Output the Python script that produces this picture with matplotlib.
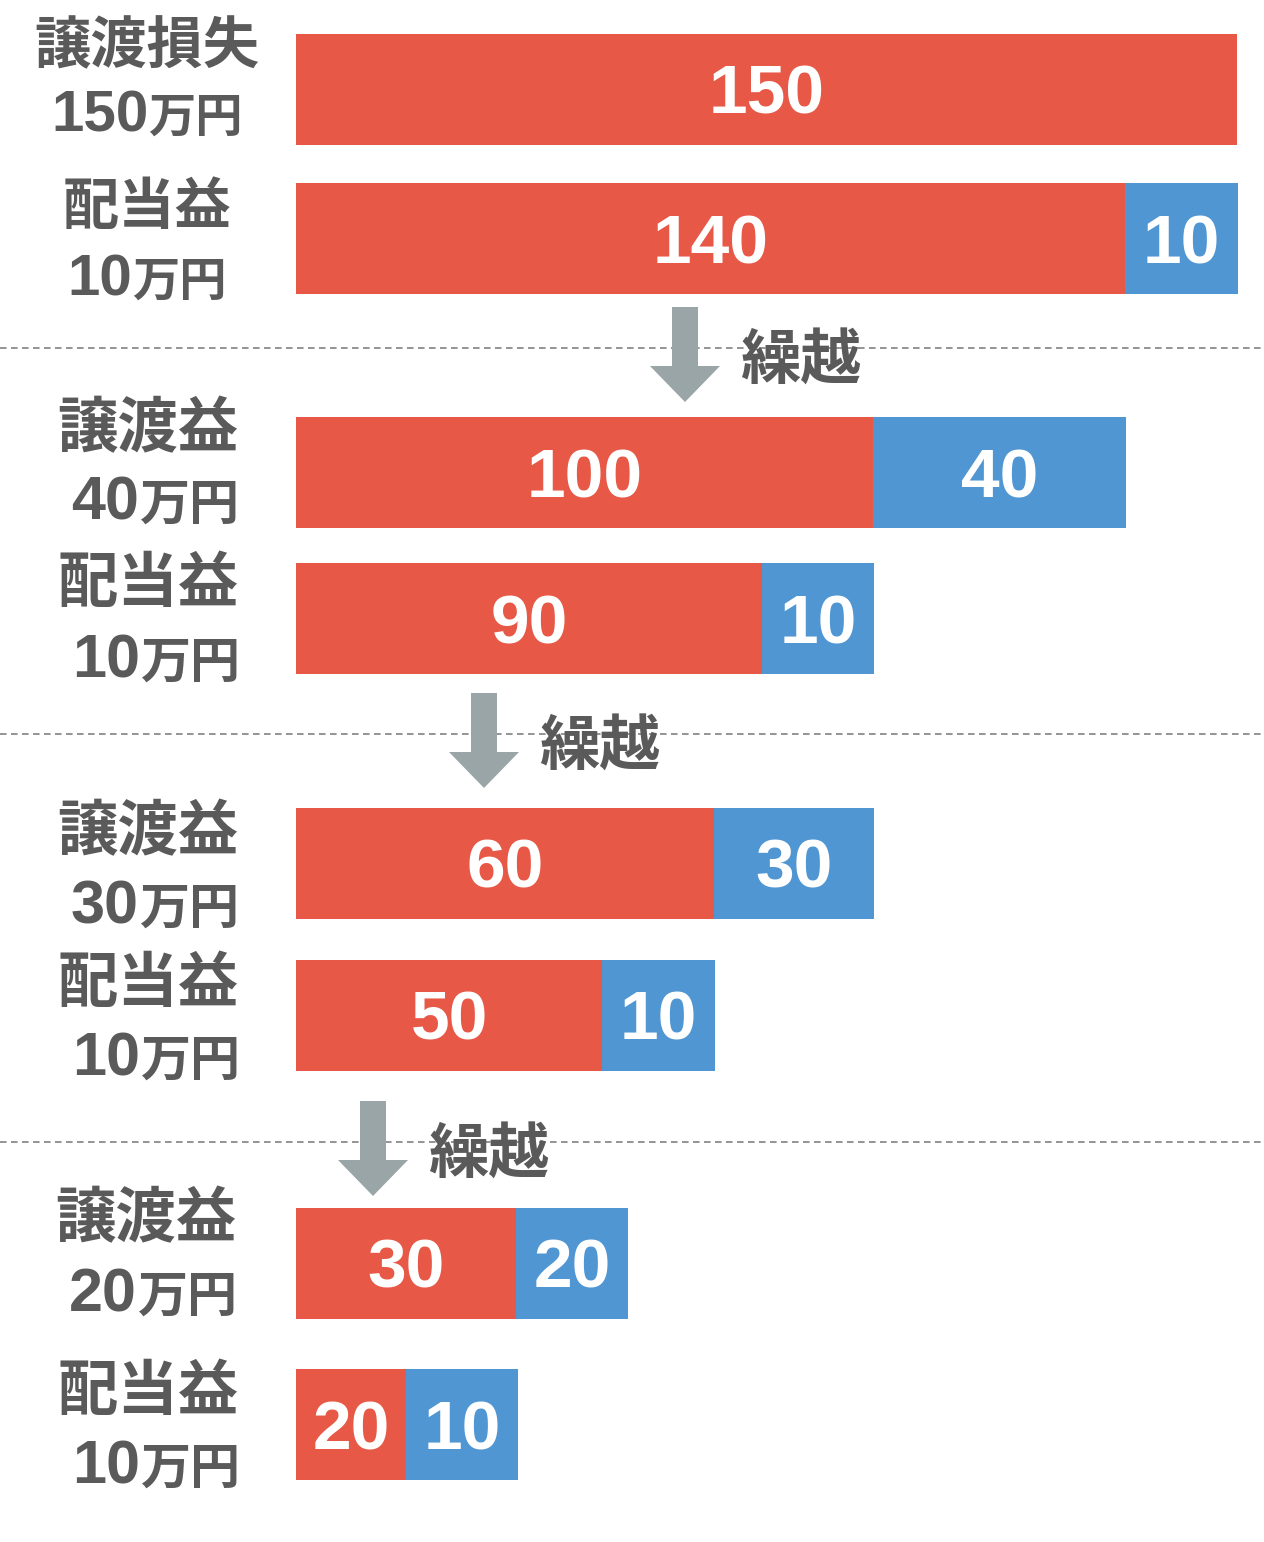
import matplotlib
matplotlib.use("Agg")
import matplotlib.pyplot as plt
from matplotlib.patches import Polygon

plt.rcParams["font.family"] = ["Liberation Sans", "Noto Sans CJK JP", "DejaVu Sans"]

# 各行のラベル (左側)
row_titles = ["譲渡損失", "配当益", "譲渡益", "配当益", "譲渡益", "配当益", "譲渡益", "配当益"]
row_amounts = ["150", "10", "40", "10", "30", "10", "20", "10"]
unit = "万円"

# バー内の数値
red_labels = ["150", "140", "100", "90", "60", "50", "30", "20"]
blue_labels = ["", "10", "40", "10", "30", "10", "20", "10"]

# バーの長さ (画像から読み取り、150 = 全幅)
red_len = [150, 132.2, 92.0, 74.3, 66.6, 48.8, 35.1, 17.5]
blue_len = [0, 17.9, 40.3, 17.9, 25.5, 18.0, 17.9, 17.9]

RED = "#e85846"
BLUE = "#4f96d2"
TEXT = "#5a5a5a"
ARROW = "#9aa5a7"

# レイアウト (ピクセル座標)
W, H = 1264, 1542
bar_x0 = 296
px_per_unit = 941 / 150
bar_centers = [89, 238, 472, 618, 863, 1015, 1263, 1424]
bar_h = 111
title_dy = [-47, -34, -47, -38, -35, -35, -48, -36]
amount_dy = [22, 37, 27, 39, 40, 40, 28, 39]
title_x = [147, 147, 148, 148, 148, 148, 146, 148]
amount_x = [147, 147, 155, 156, 155, 156, 153, 156]
title_fs = [40.5, 40.5, 43.5, 43.5, 43.5, 43.5, 43.5, 43.5]
num_fs = [42, 42, 44, 44, 44, 44, 44, 44]
unit_fs = [34, 34, 36, 36, 36, 36, 36, 36]
sep_y = [348, 734, 1142]
arrow_x = [685, 484, 373]

fig = plt.figure(figsize=(W / 100, H / 100), dpi=100)
ax = fig.add_axes([0, 0, 1, 1])
ax.set_xlim(0, W)
ax.set_ylim(H, 0)
ax.axis("off")
renderer = fig.canvas.get_renderer()


def text_width(t):
    bb = t.get_window_extent(renderer=renderer)
    return bb.width


for i, yc in enumerate(bar_centers):
    rw = red_len[i] * px_per_unit
    bw = blue_len[i] * px_per_unit
    ax.barh(yc, rw, height=bar_h, left=bar_x0, color=RED, linewidth=0)
    ax.text(bar_x0 + rw / 2, yc, red_labels[i], ha="center", va="center_baseline",
            color="white", fontsize=50, fontweight="bold")
    if bw > 0:
        ax.barh(yc, bw, height=bar_h, left=bar_x0 + rw, color=BLUE, linewidth=0)
        ax.text(bar_x0 + rw + bw / 2, yc, blue_labels[i], ha="center", va="center_baseline",
                color="white", fontsize=50, fontweight="bold")

    ax.text(title_x[i], yc + title_dy[i], row_titles[i], ha="center", va="center_baseline",
            color=TEXT, fontsize=title_fs[i], fontweight="bold")

    # 金額: 数字は大きめ、「万円」は小さめ
    base_y = yc + amount_dy[i] + 21
    t_num = ax.text(0, base_y, row_amounts[i], ha="left", va="baseline",
                    color=TEXT, fontsize=num_fs[i], fontweight="bold")
    t_unit = ax.text(0, base_y, unit, ha="left", va="baseline",
                     color=TEXT, fontsize=unit_fs[i], fontweight="bold")
    w_num = text_width(t_num)
    w_unit = text_width(t_unit)
    x_start = amount_x[i] - (w_num + w_unit) / 2
    t_num.set_x(x_start)
    t_unit.set_x(x_start + w_num)

# 区切り線と繰越矢印
for sy, axc in zip(sep_y, arrow_x):
    ax.plot([0, W], [sy, sy], color="#777777", linewidth=1.1, dashes=(4.3, 2.9), zorder=1)
    top, head, tip = sy - 41, sy + 18, sy + 54
    pts = [(axc - 13, top), (axc + 13, top), (axc + 13, head), (axc + 35, head),
           (axc, tip), (axc - 35, head), (axc - 13, head)]
    ax.add_patch(Polygon(pts, closed=True, facecolor=ARROW, edgecolor="none", zorder=3))
    ax.text(axc + 115, sy + 9, "繰越", ha="center", va="center_baseline",
            color=TEXT, fontsize=43.5, fontweight="bold", zorder=4)

fig.savefig("out.png", dpi=100)
